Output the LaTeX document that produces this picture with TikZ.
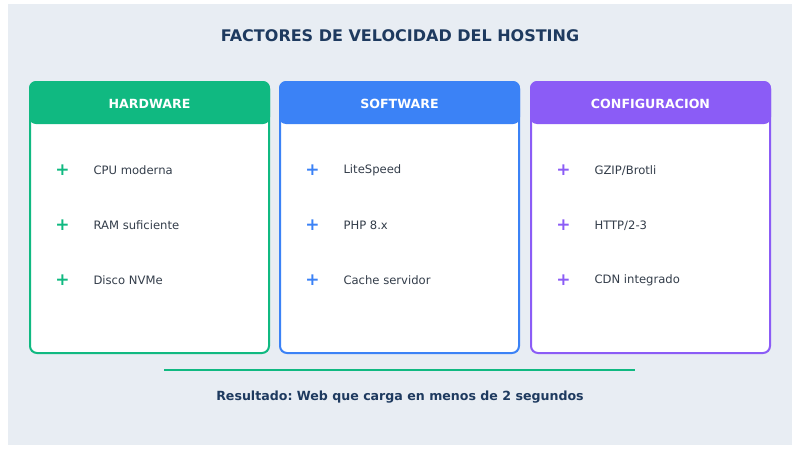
\documentclass[tikz,border=0pt]{standalone}
\usepackage{fontspec}
\setmainfont{DejaVu Sans}
\frenchspacing
\definecolor{bgc}{HTML}{E8EDF3}
\definecolor{titlec}{HTML}{1E3A5F}
\definecolor{txtc}{HTML}{333D4A}
\definecolor{cgreen}{HTML}{10B981}
\definecolor{cblue}{HTML}{3B82F6}
\definecolor{cpurple}{HTML}{8B5CF6}
\tikzset{
  card/.style={draw=#1, line width=2pt, fill=white, rounded corners=7pt},
  head/.style={fill=#1, rounded corners=7pt},
  headtxt/.style={text=white, font=\bfseries\fontsize{12.6}{14}\selectfont},
  plus/.style={text=#1, font=\bfseries\fontsize{17}{18}\selectfont},
  item/.style={text=txtc, anchor=west, font=\fontsize{11.6}{14}\selectfont},
}
\begin{document}
\begin{tikzpicture}[x=1pt,y=-1pt]
\useasboundingbox (0,0) rectangle (800,450);
\fill[bgc] (8,4) rectangle (792,445);
\node[text=titlec, font=\bfseries\fontsize{16}{18}\selectfont] (title) at (400,36) {FACTORES DE VELOCIDAD DEL HOSTING};
\foreach \x/\c/\h/\a/\b/\d/\n in {30/cgreen/HARDWARE/CPU moderna/RAM suficiente/Disco NVMe/a,
  280/cblue/SOFTWARE/LiteSpeed/PHP 8.x/Cache servidor/b,
  531/cpurple/CONFIGURACION/GZIP\slash Brotli/HTTP\slash 2-3/CDN integrado/c}{
  \draw[card=\c] (\x,82) rectangle ++(239,271);
  \fill[head=\c] (\x-1,81) rectangle ++(241,43);
  \node[headtxt] (h\n) at (\x+119.5,103.5) {\h};
  \node[plus=\c] (p1\n) at (\x+32.5,170.5) {+};
  \node[plus=\c] (p2\n) at (\x+32.5,225.5) {+};
  \node[plus=\c] (p3\n) at (\x+32.5,280.5) {+};
  \node[item] (t1\n) at (\x+60,170.5) {\a};
  \node[item] (t2\n) at (\x+60,225.5) {\b};
  \node[item] (t3\n) at (\x+60,280.5) {\d};
}
\coordinate (l1) at (164,370);
\coordinate (l2) at (635,370);
\draw[cgreen, line width=2.2pt] (l1) -- (l2);
\node[text=titlec, font=\bfseries\fontsize{12.6}{15}\selectfont] (res) at (400,397) {Resultado: Web que carga en menos de 2 segundos};
\end{tikzpicture}
\end{document}
